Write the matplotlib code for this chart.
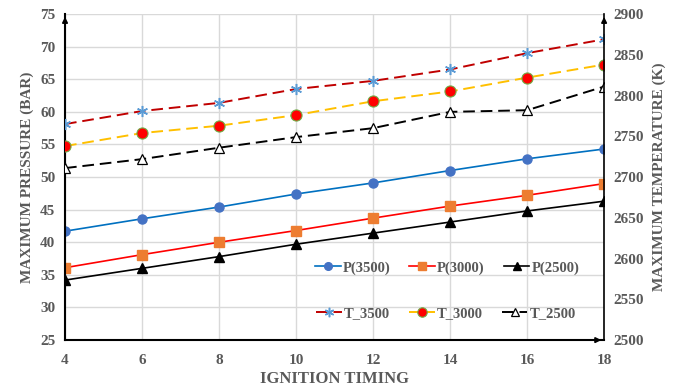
import matplotlib
matplotlib.use("Agg")
import matplotlib.pyplot as plt

timing = [4, 6, 8, 10, 12, 14, 16, 18]
p3500 = [41.7, 43.6, 45.4, 47.4, 49.1, 51.0, 52.8, 54.3]
p3000 = [36.1, 38.1, 40.0, 41.8, 43.7, 45.55, 47.2, 49.0]
p2500 = [34.2, 36.0, 37.8, 39.7, 41.4, 43.1, 44.8, 46.3]
t3500 = [2765, 2781, 2791, 2808, 2818, 2832, 2852, 2869]
t3000 = [2738, 2754, 2763, 2776, 2793, 2805, 2822, 2838]
t2500 = [2711, 2722, 2736, 2749, 2760, 2780, 2782, 2811]

plt.rcParams['font.family'] = ['Liberation Serif', 'DejaVu Serif']
GRAY = '#595959'

fig = plt.figure(figsize=(6.78, 3.9), dpi=100)
ax = fig.add_axes([0.0959, 0.128, 0.7951, 0.836])
ax2 = ax.twinx()

ax.set_xlim(4, 18)
ax.set_ylim(25, 75)
ax2.set_ylim(2500, 2900)
ax.set_xticks(timing)
ax.set_yticks(range(25, 80, 5))
ax2.set_yticks(range(2500, 2950, 50))
ax.grid(True, color='#d9d9d9', linewidth=1)
ax.set_axisbelow(True)

for a in (ax, ax2):
    a.spines['top'].set_visible(False)
    a.tick_params(length=0, labelsize=11, colors=GRAY, pad=7)
    for lbl in a.get_xticklabels() + a.get_yticklabels():
        lbl.set_fontweight('bold')
ax.tick_params(axis='x', pad=10)
ax.spines['right'].set_visible(False)
ax2.spines['left'].set_visible(False)
ax2.spines['bottom'].set_visible(False)
ax.spines['left'].set_linewidth(1.5)
ax.spines['bottom'].set_linewidth(1.5)
ax2.spines['right'].set_linewidth(1.2)

# arrows on axes
arrow = dict(arrowstyle='-|>', color='black', lw=1.2, mutation_scale=8)
ax.annotate('', xy=(0, 1.0), xycoords='axes fraction', xytext=(0, 0.97), arrowprops=arrow)
ax.annotate('', xy=(1.0, 0), xycoords='axes fraction', xytext=(0.98, 0), arrowprops=arrow)
ax.annotate('', xy=(1.0, 1.0), xycoords='axes fraction', xytext=(1.0, 0.97), arrowprops=arrow)

l1, = ax.plot(timing, p3500, color='#0070C0', lw=1.2, marker='o', ms=6.5,
              mfc='#4472C4', mec='#4472C4', label='P(3500)')
l2, = ax.plot(timing, p3000, color='#FF0000', lw=1.2, marker='s', ms=7.5,
              mfc='#ED7D31', mec='#ED7D31', label='P(3000)')
l3, = ax.plot(timing, p2500, color='black', lw=1.2, marker='^', ms=6.5,
              mfc='black', mec='black', label='P(2500)')

dash = (0, (6, 3))
l4, = ax2.plot(timing, t3500, color='#C00000', lw=1.4, ls=dash, marker=(6, 2, 0), ms=8,
               mec='#5B9BD5', mew=1.1, label='T_3500')
l5, = ax2.plot(timing, t3000, color='#FFC000', lw=1.4, ls=dash, marker='o', ms=8,
               mfc='#FF0000', mec='#70AD47', mew=0.8, label='T_3000')
l6, = ax2.plot(timing, t2500, color='black', lw=1.4, ls=dash, marker='^', ms=7.5,
               mfc='white', mec='black', mew=0.9, label='T_2500')

legkw = dict(ncol=3, frameon=False, handlelength=1.75, columnspacing=1.3,
             handletextpad=0.15, borderpad=0.1, markerscale=0.85,
             prop={'weight': 'bold', 'size': 10.5})
leg1 = ax2.legend(handles=[l1, l2, l3], loc='center', bbox_to_anchor=(0.709, 0.221), **legkw)
for t in leg1.get_texts():
    t.set_color(GRAY)
ax2.add_artist(leg1)
leg2 = ax2.legend(handles=[l4, l5, l6], loc='center', bbox_to_anchor=(0.707, 0.080), **legkw)
for t in leg2.get_texts():
    t.set_color(GRAY)

ax.set_xlabel('IGNITION TIMING', fontsize=12, fontweight='bold', color=GRAY, labelpad=3)
ax.set_ylabel('MAXIMUM PRESSURE (BAR)', fontsize=11, fontweight='bold', color=GRAY, labelpad=4)
ax2.set_ylabel('MAXIMUM TEMPERATURE (K)', fontsize=11, fontweight='bold', color=GRAY, labelpad=6)

fig.savefig('out.png', dpi=100)
